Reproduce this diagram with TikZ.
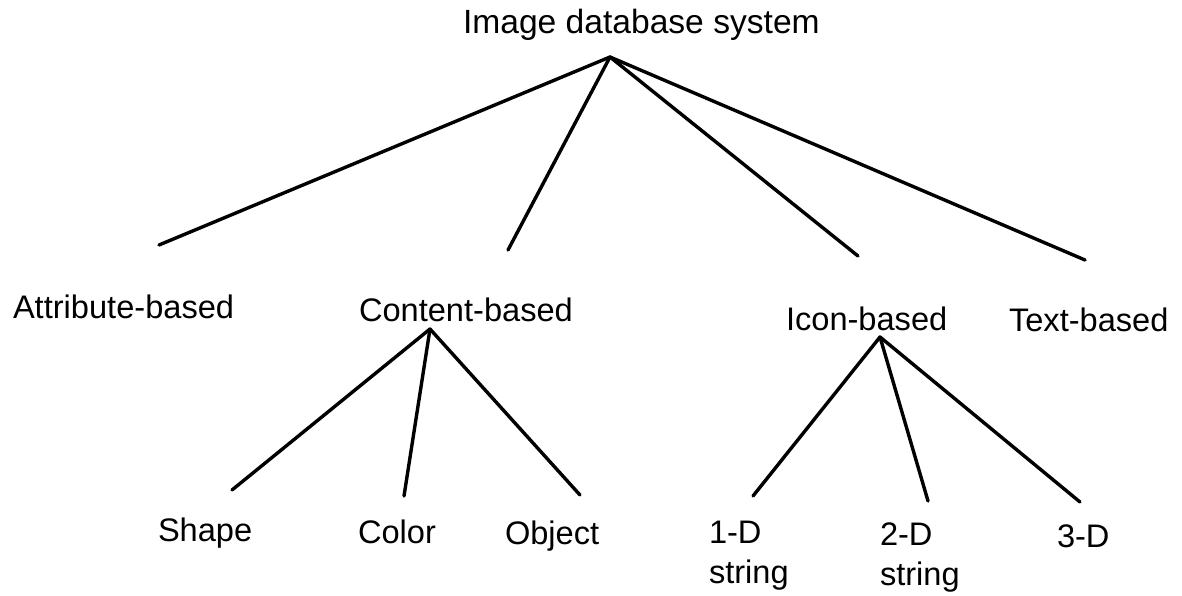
\documentclass[tikz,border=0pt]{standalone}
\usepackage{fontspec}
\setmainfont{Liberation Sans}
\begin{document}
\begin{tikzpicture}[x=0.5pt,y=-0.5pt,
  lbl/.style={inner sep=0pt,outer sep=0pt,font=\fontsize{16.3}{20}\selectfont},
  toplbl/.style={inner sep=0pt,outer sep=0pt,font=\fontsize{16.8}{21}\selectfont},
  edge/.style={line width=1.7pt,line cap=round,line join=round}]
\useasboundingbox (0,0) rectangle (1182,595);

% labels
\node[toplbl,anchor=base west] (root) at (463,33) {Image database system};
\node[lbl,anchor=base west] (attr) at (13,318) {Attribute-based};
\node[lbl,anchor=base west] (cont) at (359,321) {Content-based};
\node[lbl,anchor=base west] (icon) at (786,330) {Icon-based};
\node[lbl,anchor=base west] (text) at (1009,331) {Text-based};
\node[lbl,anchor=base west] (shape) at (158,541) {Shape};
\node[lbl,anchor=base west] (color) at (358,543) {Color};
\node[lbl,anchor=base west] (object) at (505,544) {Object};
\node[lbl,anchor=north west,align=left] (oned) at (709,521) {1-D\\string};
\node[lbl,anchor=north west,align=left] (twod) at (880,523) {2-D\\string};
\node[lbl,anchor=base west] (threed) at (1057,547) {3-D};

% branching points and line ends
\coordinate (rootJ) at (610,57);
\coordinate (attrT) at (159,245);
\coordinate (contT) at (508,250);
\coordinate (iconT) at (858,256);
\coordinate (textT) at (1085,260);

\coordinate (contJ) at (430,329);
\coordinate (shapeT) at (232,490);
\coordinate (colorT) at (404,496);
\coordinate (objectT) at (580,495);

\coordinate (iconJ) at (880,337);
\coordinate (onedT) at (753,496);
\coordinate (twodT) at (928,501);
\coordinate (threedT) at (1080,502);

% connectors
\foreach \e in {attrT,contT,iconT,textT}
  \draw[edge] (rootJ) -- (\e);
\foreach \e in {shapeT,colorT,objectT}
  \draw[edge] (contJ) -- (\e);
\foreach \e in {onedT,twodT,threedT}
  \draw[edge] (iconJ) -- (\e);
\end{tikzpicture}
\end{document}
